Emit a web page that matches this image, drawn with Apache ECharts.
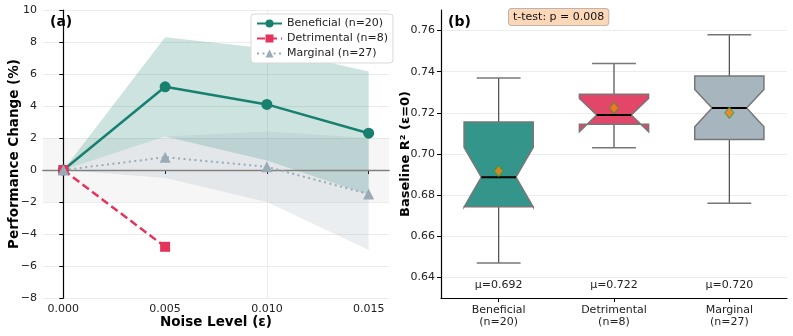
<!DOCTYPE html>
<html>
<head>
<meta charset="utf-8">
<script src="https://cdn.jsdelivr.net/npm/echarts@6/dist/echarts.min.js"></script>
<style>
  html, body { margin: 0; padding: 0; background: #fff; }
  #chart { width: 793px; height: 336px; }
</style>
</head>
<body>
<div id="chart"></div>
<script>
// ---- panel (a): performance change vs noise level ----
const noiseLevels = [0, 0.005, 0.010, 0.015]
const beneficialMean = [0, 5.2, 4.1, 2.3]
const beneficialUpper = [0, 8.3, 7.6, 6.15]
const beneficialLower = [0, 2.1, 0.6, -1.55]
const detrimentalNoise = [0, 0.005]
const detrimentalMean = [0, -4.8]
const marginalMean = [0, 0.8, 0.2, -1.5]
const marginalUpper = [0, 2.1, 2.4, 2.0]
const marginalLower = [0, -0.5, -2.0, -5.0]

// ---- panel (b): baseline R² boxplots ----
const boxCategories = ['Beneficial\n(n=20)', 'Detrimental\n(n=8)', 'Marginal\n(n=27)']
const boxWhiskerLo = [0.647, 0.703, 0.676]
const boxQ1 = [0.6744, 0.7145, 0.707]
const boxMedian = [0.6887, 0.719, 0.7224]
const boxQ3 = [0.7156, 0.729, 0.7379]
const boxWhiskerHi = [0.737, 0.744, 0.758]
const boxNotchLo = [0.6742, 0.7108, 0.7132]
const boxNotchHi = [0.7032, 0.7270, 0.7314]
const boxMeans = [0.6917, 0.7224, 0.7201]
const r2Ticks = [0.64, 0.66, 0.68, 0.70, 0.72, 0.74, 0.76]

const FONT = 'DejaVu Sans'
const TEAL = '#17806f'
const RED = '#e4345b'
const GREY = '#9aabb7'
const boxColors = ['#34968a', '#e24668', '#a6b5be']
const MEAN_LABEL_Y = 0.6362

const chart = echarts.init(document.getElementById('chart'), null, { renderer: 'canvas' })

function bandRenderer(upper, lower) {
  return function (params, api) {
    const pts = []
    noiseLevels.forEach((x, i) => pts.push(api.coord([x, upper[i]])))
    for (let i = noiseLevels.length - 1; i >= 0; i--) pts.push(api.coord([noiseLevels[i], lower[i]]))
    return {
      type: 'polygon',
      shape: { points: pts },
      style: api.style()
    }
  }
}

function renderBox(params, api) {
  const i = params.dataIndex
  const bw = api.size([1, 0])[0]
  const cx = api.coord([i, 0.7])[0]
  const Y = v => api.coord([i, v])[1]
  const x0 = cx - 0.3 * bw, x1 = cx + 0.3 * bw
  const n0 = cx - 0.15 * bw, n1 = cx + 0.15 * bw
  const cap = 0.19 * bw
  const wl = api.value(1), q1 = api.value(2), med = api.value(3), q3 = api.value(4)
  const wh = api.value(5), nlo = api.value(6), nhi = api.value(7)
  const lineSty = { stroke: '#4a4a4a', lineWidth: 1.2 }
  return {
    type: 'group',
    children: [
      { type: 'line', shape: { x1: cx, y1: Y(q3), x2: cx, y2: Y(wh) }, style: lineSty },
      { type: 'line', shape: { x1: cx, y1: Y(q1), x2: cx, y2: Y(wl) }, style: lineSty },
      { type: 'line', shape: { x1: cx - cap, y1: Y(wh), x2: cx + cap, y2: Y(wh) }, style: { stroke: '#777', lineWidth: 1.5 } },
      { type: 'line', shape: { x1: cx - cap, y1: Y(wl), x2: cx + cap, y2: Y(wl) }, style: { stroke: '#777', lineWidth: 1.5 } },
      {
        type: 'polygon',
        shape: {
          points: [
            [x0, Y(q1)], [x0, Y(nlo)], [n0, Y(med)], [x0, Y(nhi)], [x0, Y(q3)],
            [x1, Y(q3)], [x1, Y(nhi)], [n1, Y(med)], [x1, Y(nlo)], [x1, Y(q1)]
          ]
        },
        style: { fill: boxColors[i], stroke: '#777', lineWidth: 1.5 }
      },
      { type: 'line', shape: { x1: n0, y1: Y(med), x2: n1, y2: Y(med) }, style: { stroke: '#000', lineWidth: 2 } },
      {
        type: 'text',
        style: {
          text: 'μ=' + boxMeans[i].toFixed(3),
          x: cx, y: Y(MEAN_LABEL_Y),
          align: 'center', verticalAlign: 'middle',
          font: '11px "' + FONT + '"', fill: '#222'
        }
      }
    ]
  }
}

const option = {
  animation: false,
  textStyle: { fontFamily: FONT },
  grid: [
    { left: 43, right: 404, top: 10, bottom: 38, outerBoundsMode: 'none' },
    { left: 441, right: 6, top: 10, bottom: 38, outerBoundsMode: 'none' }
  ],
  legend: {
    data: ['Beneficial (n=20)', 'Detrimental (n=8)', 'Marginal (n=27)'],
    orient: 'vertical',
    left: 251, top: 14,
    itemWidth: 25, itemHeight: 10, itemGap: 4,
    padding: [4, 5],
    backgroundColor: '#fff',
    borderColor: '#d8d8d8', borderWidth: 1, borderRadius: 3,
    textStyle: { fontSize: 11, color: '#222', fontFamily: FONT }
  },
  xAxis: [
    {
      type: 'value', gridIndex: 0, min: -0.001, max: 0.016,
      name: 'Noise Level (ε)', nameLocation: 'middle', nameGap: 17, nameMoveOverlap: false,
      nameTextStyle: { fontSize: 13.5, fontWeight: 'bold', color: '#000' },
      axisLine: { show: true, lineStyle: { color: '#000', width: 1.2 } },
      axisTick: { show: true, length: 4, customValues: noiseLevels, lineStyle: { color: '#000' } },
      axisLabel: { customValues: noiseLevels, margin: 6, fontSize: 11, color: '#222', formatter: v => v.toFixed(3) },
      splitLine: { show: false }
    },
    {
      type: 'category', gridIndex: 1, data: boxCategories,
      axisLine: { show: true, lineStyle: { color: '#000', width: 1.2 } },
      axisTick: { show: true, length: 4, alignWithLabel: true, lineStyle: { color: '#000' } },
      axisLabel: { margin: 6, fontSize: 11, lineHeight: 12, color: '#222' },
      splitLine: { show: false }
    }
  ],
  yAxis: [
    {
      type: 'value', gridIndex: 0, min: -8, max: 10, interval: 2,
      name: 'Performance Change (%)', nameLocation: 'middle', nameGap: 22, nameMoveOverlap: false,
      nameTextStyle: { fontSize: 13.5, fontWeight: 'bold', color: '#000' },
      axisLine: { show: true, lineStyle: { color: '#000', width: 1.2 } },
      axisTick: { show: true, length: 4, lineStyle: { color: '#000' } },
      axisLabel: { fontSize: 11, color: '#222', margin: 6, formatter: v => v < 0 ? '\u2212' + Math.abs(v) : String(v) },
      splitLine: { show: true, lineStyle: { color: '#ececec', width: 1 } }
    },
    {
      type: 'value', gridIndex: 1, min: 0.63, max: 0.77,
      name: 'Baseline R² (ε=0)', nameLocation: 'middle', nameGap: 29, nameMoveOverlap: false,
      nameTextStyle: { fontSize: 13, fontWeight: 'bold', color: '#000' },
      axisLine: { show: true, lineStyle: { color: '#000', width: 1.2 } },
      axisTick: { show: true, length: 4, customValues: r2Ticks, lineStyle: { color: '#000' } },
      axisLabel: { customValues: r2Ticks, fontSize: 11, color: '#222', margin: 6, formatter: v => v.toFixed(2) },
      splitLine: { show: false }
    }
  ],
  graphic: [
    { type: 'text', left: 50, top: 15, style: { text: '(a)', font: 'bold 14px "' + FONT + '"', fill: '#000' } },
    { type: 'text', left: 448, top: 15, style: { text: '(b)', font: 'bold 14px "' + FONT + '"', fill: '#000' } },
    {
      type: 'text', left: 508, top: 8,
      style: {
        text: 't-test: p = 0.008', font: '11px "' + FONT + '"', fill: '#111',
        backgroundColor: '#fdd8b8', borderColor: '#bdb3a8', borderWidth: 1, borderRadius: 3,
        padding: [3, 4, 2, 4]
      }
    }
  ],
  series: [
    // background helpers for panel (a)
    {
      name: 'helper-a', type: 'line', xAxisIndex: 0, yAxisIndex: 0, data: [], silent: true, z: 0,
      markArea: {
        silent: true, z: 0,
        itemStyle: { color: 'rgba(200,200,200,0.16)' },
        data: [[{ yAxis: -2 }, { yAxis: 2 }]]
      },
      markLine: {
        silent: true, z: 0, symbol: 'none', label: { show: false },
        lineStyle: { color: '#ececec', width: 1, type: 'solid' },
        data: noiseLevels.map(x => ({ xAxis: x }))
      }
    },
    {
      name: 'band-beneficial', type: 'custom', xAxisIndex: 0, yAxisIndex: 0, z: 1, silent: true,
      data: [[0, 0]],
      renderItem: bandRenderer(beneficialUpper, beneficialLower),
      itemStyle: { color: TEAL, opacity: 0.22 }
    },
    {
      name: 'band-marginal', type: 'custom', xAxisIndex: 0, yAxisIndex: 0, z: 1, silent: true,
      data: [[0, 0]],
      renderItem: bandRenderer(marginalUpper, marginalLower),
      itemStyle: { color: GREY, opacity: 0.2 },
      markLine: {
        silent: true, z: 2, symbol: 'none', label: { show: false },
        lineStyle: { color: '#808080', width: 1.3, type: 'solid' },
        data: [{ yAxis: 0 }]
      }
    },
    {
      name: 'Beneficial (n=20)', type: 'line', xAxisIndex: 0, yAxisIndex: 0, z: 3,
      data: noiseLevels.map((x, i) => [x, beneficialMean[i]]),
      symbol: 'circle', symbolSize: 11,
      lineStyle: { color: TEAL, width: 2.5 },
      itemStyle: { color: TEAL }
    },
    {
      name: 'Detrimental (n=8)', type: 'line', xAxisIndex: 0, yAxisIndex: 0, z: 3,
      data: detrimentalNoise.map((x, i) => [x, detrimentalMean[i]]),
      symbol: 'rect', symbolSize: 10,
      lineStyle: { color: RED, width: 2.5, type: [8, 4] },
      itemStyle: { color: RED }
    },
    {
      name: 'Marginal (n=27)', type: 'line', xAxisIndex: 0, yAxisIndex: 0, z: 3,
      data: noiseLevels.map((x, i) => [x, marginalMean[i]]),
      symbol: 'triangle', symbolSize: 11,
      lineStyle: { color: GREY, width: 2, type: [2, 3.5] },
      itemStyle: { color: GREY }
    },
    // panel (b)
    {
      name: 'boxes', type: 'custom', xAxisIndex: 1, yAxisIndex: 1, z: 2, silent: true,
      data: boxCategories.map((c, i) => [i, boxWhiskerLo[i], boxQ1[i], boxMedian[i], boxQ3[i], boxWhiskerHi[i], boxNotchLo[i], boxNotchHi[i]]),
      encode: { x: 0, y: [1, 5] },
      renderItem: renderBox,
      markLine: {
        silent: true, z: 0, symbol: 'none', label: { show: false },
        lineStyle: { color: '#ececec', width: 1, type: 'solid' },
        data: r2Ticks.map(v => ({ yAxis: v }))
      }
    },
    {
      name: 'means', type: 'scatter', xAxisIndex: 1, yAxisIndex: 1, z: 4, silent: true,
      data: boxMeans.map((m, i) => [i, m]),
      symbol: 'diamond', symbolSize: [9, 11],
      itemStyle: { color: '#ff7f0e', borderColor: '#2ca02c', borderWidth: 1 }
    }
  ]
}

chart.setOption(option)
</script>
</body>
</html>
